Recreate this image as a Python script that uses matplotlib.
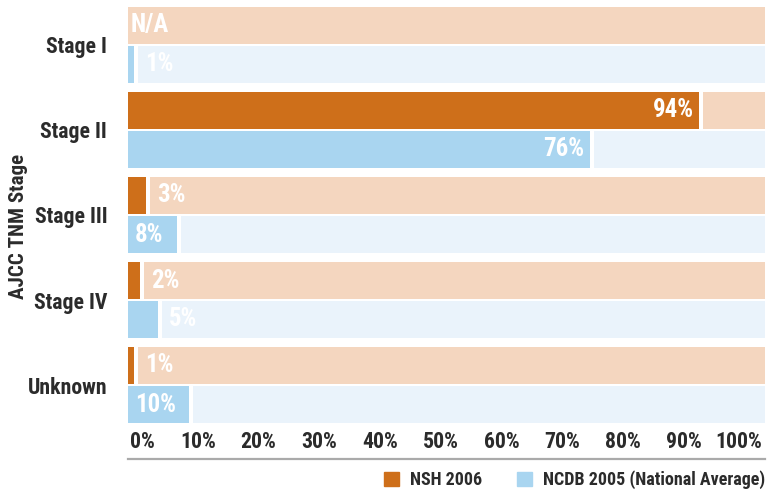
import matplotlib
matplotlib.use('Agg')
import matplotlib.pyplot as plt
import matplotlib.transforms as mtransforms
import matplotlib.font_manager as fm
from matplotlib.lines import Line2D
from matplotlib.patches import Patch
import numpy as np

# narrow font if there is one, Roboto otherwise
names = {f.name for f in fm.fontManager.ttflist}
if 'Roboto Condensed' in names:
    fam, k = 'Roboto Condensed', 1.12
elif 'Liberation Sans Narrow' in names:
    fam, k = 'Liberation Sans Narrow', 1.08
else:
    fam, k = 'Roboto', 1.0
plt.rcParams['font.family'] = [fam, 'DejaVu Sans']

# data
stages = ['Stage I', 'Stage II', 'Stage III', 'Stage IV', 'Unknown']
nsh_2006 = [None, 94, 3, 2, 1]
ncdb_2005 = [1, 76, 8, 5, 10]
ticks = [0, 10, 20, 30, 40, 50, 60, 70, 80, 90, 100]
tick_labels = ['%d%%' % t for t in ticks]

orange = '#CE6F1A'
peach = '#F4D6BF'
blue = '#A9D5F0'
light_blue = '#EAF3FB'
dark = '#2b2b2b'

fig = plt.figure(figsize=(7.68, 4.92), dpi=100)
ax = fig.add_axes([128 / 768, 1 - 423 / 492, 637 / 768, 416 / 492])

xmax = 104.9
gap = 0.66
h = 37 / 85
off = (1 + 37 / 2) / 85
y = np.arange(len(stages))
fs_bar = 16 * k


def draw_row(yy, v, color, bg):
    if v is None:
        ax.barh(yy, xmax, left=0, height=h, color=bg)
        ax.text(0.4, yy, 'N/A', color='white', fontsize=fs_bar, fontweight='bold',
                ha='left', va='center')
        return
    ax.barh(yy, v, left=0, height=h, color=color)
    ax.barh(yy, xmax - v - gap, left=v + gap, height=h, color=bg)
    lab = '%d%%' % v
    if v >= 50:
        ax.text(v - 0.8, yy, lab, color='white', fontsize=fs_bar, fontweight='bold',
                ha='right', va='center')
    elif v >= 8:
        ax.text(1.1, yy, lab, color='white', fontsize=fs_bar, fontweight='bold',
                ha='left', va='center')
    else:
        ax.text(v + gap + 1.1, yy, lab, color='white', fontsize=fs_bar,
                fontweight='bold', ha='left', va='center')


for i in range(len(stages)):
    draw_row(y[i] - off, nsh_2006[i], orange, peach)
    draw_row(y[i] + off, ncdb_2005[i], blue, light_blue)

ax.set_xlim(0, xmax)
ax.set_ylim(4 + 38 / 85, -38 / 85)
for s in ax.spines.values():
    s.set_visible(False)

ax.set_yticks(y)
ax.set_yticklabels(stages, fontsize=14 * k, fontweight='bold', color=dark)
ax.tick_params(axis='y', length=0, pad=15)

ax.set_xticks(ticks)
ax.set_xticklabels(tick_labels, fontsize=14 * k, fontweight='bold', color=dark)
ax.tick_params(axis='x', length=0, pad=6)
shift = mtransforms.ScaledTranslation(27 / 100, 0, fig.dpi_scale_trans)
for lab in ax.get_xticklabels():
    lab.set_ha('right')
    lab.set_transform(lab.get_transform() + shift)

fig.text(19 / 768, 1 - 226 / 492, 'AJCC TNM Stage', rotation=90,
         fontsize=13.5 * k, fontweight='bold', color=dark, ha='center', va='center')

# base line under the tick labels
fig.add_artist(Line2D([128 / 768, 765 / 768], [1 - 459 / 492, 1 - 459 / 492],
                      transform=fig.transFigure, color='#aaaaaa', lw=1.6))

handles = [Patch(color=orange, label='NSH 2006'),
           Patch(color=blue, label='NCDB 2005 (National Average)')]
fig.legend(handles=handles, ncol=2, loc='center right',
           bbox_to_anchor=(765 / 768, 1 - 480 / 492), frameon=False,
           prop={'size': 11.6 * k, 'weight': 'bold'}, labelcolor=dark,
           handlelength=0.85, handleheight=0.85, handletextpad=0.6,
           columnspacing=1.9, borderpad=0, borderaxespad=0)

fig.savefig('out.png', dpi=100)
